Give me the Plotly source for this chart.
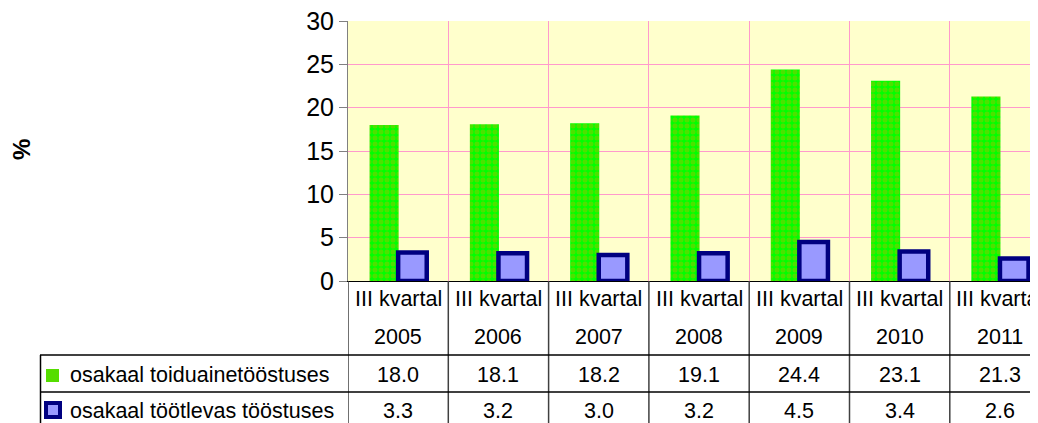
import plotly.graph_objects as go

categories_q = ["III kvartal"] * 7
categories_year = ["2005", "2006", "2007", "2008", "2009", "2010", "2011"]
series_names = ["osakaal toiduainetööstuses", "osakaal töötlevas tööstuses"]
food_values = [18.0, 18.1, 18.2, 19.1, 24.4, 23.1, 21.3]
manuf_values = [3.3, 3.2, 3.0, 3.2, 4.5, 3.4, 2.6]
y_ticks = [0, 5, 10, 15, 20, 25, 30]

# the page has an 8px body margin; lay out in window pixels and convert
OFF = 8
WIN_W, WIN_H = 1038, 423
W, H = WIN_W - OFF, WIN_H - OFF
FONT = "Liberation Sans, Arial, sans-serif"

def py(p):
    return 1 - (p - OFF) / H

def px(p):
    return (p - OFF) / W

n = len(categories_year)
xs = list(range(n))

fig = go.Figure()
fig.add_trace(go.Bar(
    x=xs, y=food_values, name=series_names[0],
    width=0.29, offset=-0.285,
    marker=dict(color="#00ff00", line=dict(width=0),
                pattern=dict(shape=".", bgcolor="#00ff00", fgcolor="#99c400",
                             size=6, solidity=0.55)),
    showlegend=False,
))
fig.add_trace(go.Bar(
    x=xs, y=manuf_values, name=series_names[1],
    width=0.285, offset=0.0,
    marker=dict(color="#9999ff", line=dict(width=4.5, color="#000080")),
    showlegend=False,
))

cat_w = 100.3
x_left = 348
x_max = -0.5 + (WIN_W - x_left) / cat_w

fig.update_layout(
    width=W, height=H, autosize=False,
    margin=dict(l=0, r=0, t=0, b=0, pad=0, autoexpand=False),
    paper_bgcolor="white",
    plot_bgcolor="#ffffcc",
    barmode="overlay",
    font=dict(family=FONT, color="black"),
    xaxis=dict(
        domain=[px(x_left), 1], range=[-0.5, x_max], automargin=False,
        tick0=0.5, dtick=1, showticklabels=False, ticks="",
        showgrid=True, gridcolor="#ff99cc", gridwidth=1,
        zeroline=False, showline=True, linecolor="black", linewidth=1,
        fixedrange=True,
    ),
    yaxis=dict(
        domain=[py(281), py(21)], range=[0, 30], automargin=False,
        tickvals=y_ticks, ticks="outside", ticklen=8, tickcolor="#808080",
        tickwidth=1, showgrid=True, gridcolor="#ff99cc", gridwidth=1,
        zeroline=False, showline=True, linecolor="#808080", linewidth=1,
        tickfont=dict(size=25, family=FONT, color="black"),
        ticklabeloverflow="allow",
        fixedrange=True,
    ),
)

shapes = []
for k in range(n + 1):
    shapes.append(dict(type="line", xref="x", yref="paper",
                       x0=k - 0.5, x1=k - 0.5, y0=py(281), y1=py(WIN_H),
                       line=dict(color="#404040", width=1.5)))
for yy in (355, 392):
    shapes.append(dict(type="line", xref="paper", yref="paper",
                       x0=px(40), x1=1, y0=py(yy), y1=py(yy),
                       line=dict(color="black", width=1.5)))
shapes.append(dict(type="line", xref="paper", yref="paper",
                   x0=px(40.5), x1=px(40.5), y0=py(355), y1=py(WIN_H),
                   line=dict(color="black", width=1.5)))
shapes.append(dict(type="rect", xref="paper", yref="paper",
                   x0=px(46), x1=px(59), y0=py(382), y1=py(369),
                   fillcolor="#55dd00", line=dict(width=0)))
shapes.append(dict(type="rect", xref="paper", yref="paper",
                   x0=px(46), x1=px(60), y0=py(417), y1=py(403),
                   fillcolor="#9999ff", line=dict(color="#000080", width=4)))
fig.update_layout(shapes=shapes)

ann = []
tfont = dict(size=21.5, family=FONT, color="black")
for i in range(n):
    ann.append(dict(x=i, y=py(299), xref="x", yref="paper", text=categories_q[i],
                    showarrow=False, font=tfont, xanchor="center", yanchor="middle"))
    ann.append(dict(x=i, y=py(337), xref="x", yref="paper", text=categories_year[i],
                    showarrow=False, font=tfont, xanchor="center", yanchor="middle"))
    ann.append(dict(x=i, y=py(375), xref="x", yref="paper", text=f"{food_values[i]:.1f}",
                    showarrow=False, font=tfont, xanchor="center", yanchor="middle"))
    ann.append(dict(x=i, y=py(411), xref="x", yref="paper", text=f"{manuf_values[i]:.1f}",
                    showarrow=False, font=tfont, xanchor="center", yanchor="middle"))
ann.append(dict(x=px(68), y=py(375), xref="paper", yref="paper", text=series_names[0],
                showarrow=False, font=tfont, xanchor="left", yanchor="middle"))
ann.append(dict(x=px(68), y=py(411), xref="paper", yref="paper", text=series_names[1],
                showarrow=False, font=tfont, xanchor="left", yanchor="middle"))
ann.append(dict(x=px(21), y=py(150), xref="paper", yref="paper", text="<b>%</b>",
                showarrow=False, textangle=-90, font=dict(size=24, family=FONT, color="black"),
                xanchor="center", yanchor="middle"))
fig.update_layout(annotations=ann)

fig.write_html("out.html", config={"displayModeBar": False})
